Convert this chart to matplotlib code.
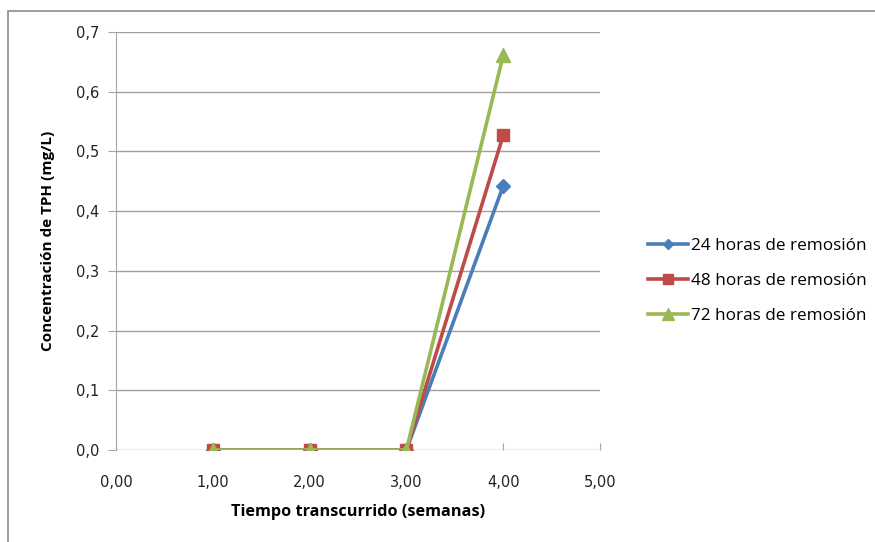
import matplotlib.pyplot as plt
from matplotlib.patches import Rectangle
from matplotlib.ticker import FuncFormatter, MultipleLocator

semanas = [1, 2, 3, 4]
tph_24 = [0.0, 0.0, 0.0, 0.442]
tph_48 = [0.0, 0.0, 0.0, 0.527]
tph_72 = [0.0, 0.0, 0.0, 0.661]
series = ['24 horas de remosión', '48 horas de remosión', '72 horas de remosión']

fig = plt.figure(figsize=(8.75, 5.42), dpi=100)
# chart border
fig.patches.append(Rectangle((8 / 875, -0.05), 1.0, 1 - 11 / 542 + 0.05, transform=fig.transFigure,
                             fill=False, edgecolor='#8c8c8c', lw=1.2))
ax = fig.add_axes([116 / 875, 1 - 450 / 542, 484 / 875, 418 / 542])

ax.plot(semanas, tph_24, color='#4A7EBB', lw=2.6, marker='D', ms=7, label=series[0])
ax.plot(semanas, tph_48, color='#BE4B48', lw=2.6, marker='s', ms=9, label=series[1])
ax.plot(semanas, tph_72, color='#98B954', lw=2.6, marker='^', ms=10, label=series[2])

ax.set_xlim(0, 5)
ax.set_ylim(0, 0.7)
ax.xaxis.set_major_locator(MultipleLocator(1))
ax.yaxis.set_major_locator(MultipleLocator(0.1))
ax.xaxis.set_major_formatter(FuncFormatter(lambda v, p: f'{v:.2f}'.replace('.', ',')))
ax.yaxis.set_major_formatter(FuncFormatter(lambda v, p: f'{v:.1f}'.replace('.', ',')))
ax.grid(axis='y', color='#a0a0a0', lw=1)
ax.set_axisbelow(True)
for s in ['top', 'right', 'bottom']:
    ax.spines[s].set_visible(False)
ax.spines['left'].set_color('#a6a6a6')
ax.tick_params(axis='y', length=6, color='#a6a6a6', labelsize=10.5, pad=6)
ax.tick_params(axis='x', direction='in', length=5, color='#a6a6a6', labelsize=10.5, pad=18)
for t in ax.get_xticklabels() + ax.get_yticklabels():
    t.set_color('#222222')

ax.set_xlabel('Tiempo transcurrido (semanas)', fontsize=11.7, fontweight='bold',
              family='Open Sans', labelpad=10)
ax.set_ylabel('Concentración de TPH (mg/L)', fontsize=11, fontweight='bold',
              family='Open Sans', labelpad=15)

ax.legend(loc='center left', bbox_to_anchor=(1.068, 0.405), frameon=False,
          prop={'family': 'Open Sans', 'size': 12.3}, handlelength=2.3,
          handletextpad=0.2, labelspacing=1.1, markerscale=0.8)

fig.savefig('out.png', dpi=100)
